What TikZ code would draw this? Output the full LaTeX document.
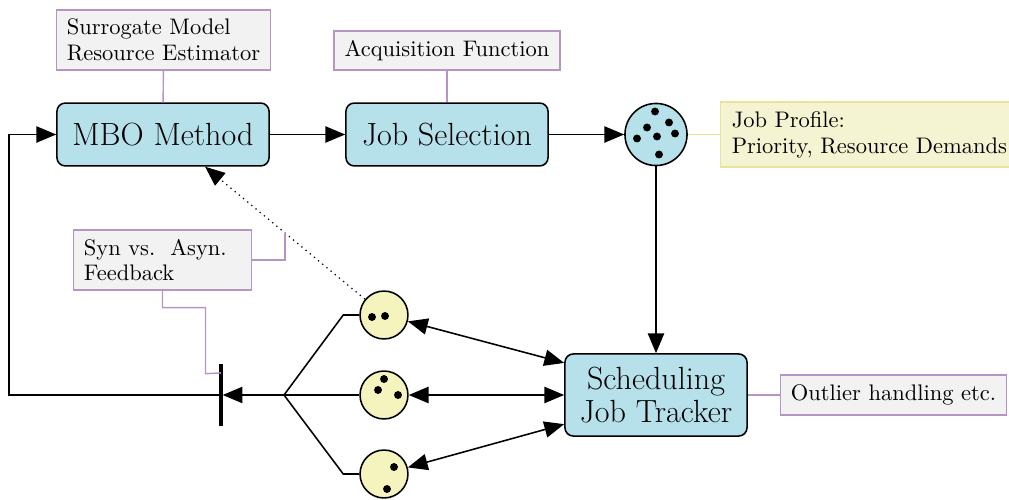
\documentclass[tikz,border=0pt]{standalone}
\usetikzlibrary{arrows.meta}
\definecolor{boxblue}{RGB}{182,224,234}
\definecolor{noteyel}{RGB}{245,244,210}
\definecolor{noteyelline}{RGB}{232,228,160}
\definecolor{circyel}{RGB}{246,244,190}
\definecolor{notegray}{RGB}{242,242,242}
\definecolor{notepurple}{RGB}{182,148,196}
\begin{document}
\begin{tikzpicture}[x=0.48pt,y=-0.48pt,
  >={Triangle[length=9.5pt,width=7.8pt]},
  line width=0.75pt,
  font=\fontsize{10.8}{12.4}\selectfont,
  proc/.style={draw=black,fill=boxblue,rounded corners=4pt,line width=0.75pt,inner sep=0pt,font=\fontsize{15.4}{18}\selectfont,align=center},
  note/.style={draw=notepurple,fill=notegray,line width=0.7pt,inner xsep=5pt,inner ysep=3pt,align=left},
  noteline/.style={draw=notepurple,line width=0.7pt},
  yelnote/.style={draw=noteyelline,fill=noteyel,line width=0.7pt,inner xsep=5.3pt,inner ysep=3pt,align=left},
  bigcirc/.style={circle,draw=black,fill=boxblue,line width=0.75pt,minimum size=29.8pt,inner sep=0pt},
  smallcirc/.style={circle,draw=black,fill=circyel,line width=0.75pt,minimum size=23pt,inner sep=0pt},
  dot/.style={fill=black}
]
\useasboundingbox (0,0) rectangle (1009,500);

% main process boxes
\node[proc,minimum width=101.8pt,minimum height=30.2pt] (mbo) at (163,134.5) {MBO Method};
\node[proc,minimum width=97pt,minimum height=30.2pt] (jobsel) at (447,134.5) {Job Selection};
\node[proc,minimum width=87.4pt,minimum height=39.4pt] (sched) at (656,395) {Scheduling\\[-2pt]Job Tracker};

% notes
\node[note,minimum height=28.8pt] (surr) at (163.5,40) {Surrogate Model\\Resource Estimator};
\node[note,minimum height=18.7pt] (acq) at (447,50.5) {Acquisition Function};
\node[yelnote,anchor=west,minimum height=31.2pt] (jp) at (720,134.5) {Job Profile:\\Priority, Resource Demands};
\node[note,minimum height=19.2pt,minimum width=108pt] (out) at (893.5,395) {Outlier handling etc.};
\node[note,minimum height=28.8pt,text width=75.4pt,minimum width=85pt] (syn) at (162.5,260) {Syn vs.\ \ Asyn.\\Feedback};

% job profile circle
\node[bigcirc] (prof) at (656,134.5) {};
\foreach \dx/\dy in {-1/-23,13/-12,-9/-7,19/-1,1/2,-19/4,3/20}
  \fill[dot] (656+\dx,134.5+\dy) circle (1.9pt);

% worker circles
\node[smallcirc] (c1) at (384,315) {};
\node[smallcirc] (c2) at (384,395) {};
\node[smallcirc] (c3) at (384,474) {};
\foreach \dx/\dy in {-12/2,1/1}
  \fill[dot] (384+\dx,315+\dy) circle (1.9pt);
\foreach \dx/\dy in {0/-16,-6/-5,14/0}
  \fill[dot] (384+\dx,395+\dy) circle (1.9pt);
\foreach \dx/\dy in {10/-8,3/14}
  \fill[dot] (384+\dx,475+\dy) circle (1.9pt);

% note connectors
\draw[noteline] (surr) -- (mbo);
\draw[noteline] (acq) -- (jobsel);
\draw[draw=noteyelline,line width=0.7pt] (prof.east) -- (jp.west);
\draw[noteline] (sched) -- (out);

% main flow
\draw[->] (mbo) -- (jobsel);
\draw[->] (jobsel) -- (prof);
\draw[->] (prof) -- (sched);
\draw[<->] (c1) -- ([yshift=15.4pt]sched.west);
\draw[<->] (c2) -- (sched.west);
\draw[<->] (c3) -- ([yshift=-14pt]sched.west);

% fan and barrier
\coordinate (fan) at (284,395);
\coordinate (bar) at (221,395);
\coordinate (loop) at (9,395);
\draw (c1.west) -- ++(-16,0) -- (fan);
\draw (c2.west) -- (fan);
\draw (c3.west) -- ++(-16,0) -- (fan);
\draw[->] (fan) -- ([xshift=0.8pt]bar);
\draw[line width=1.7pt] ([yshift=14.9pt]bar) -- ([yshift=-14.9pt]bar);
\draw[->] (bar) -- (loop) |- (mbo.west);

% dotted feedback
\draw[dotted,->,line width=0.6pt] (c1) -- ([xshift=20.2pt]mbo.south);

% syn note connectors
\draw[noteline] (syn.east) -- ++(33,0) -- ++(0,-27);
\draw[noteline] (syn.south) -- ++(0,17) -| ++(43,66) -- ([yshift=10.6pt]bar);
\end{tikzpicture}
\end{document}
